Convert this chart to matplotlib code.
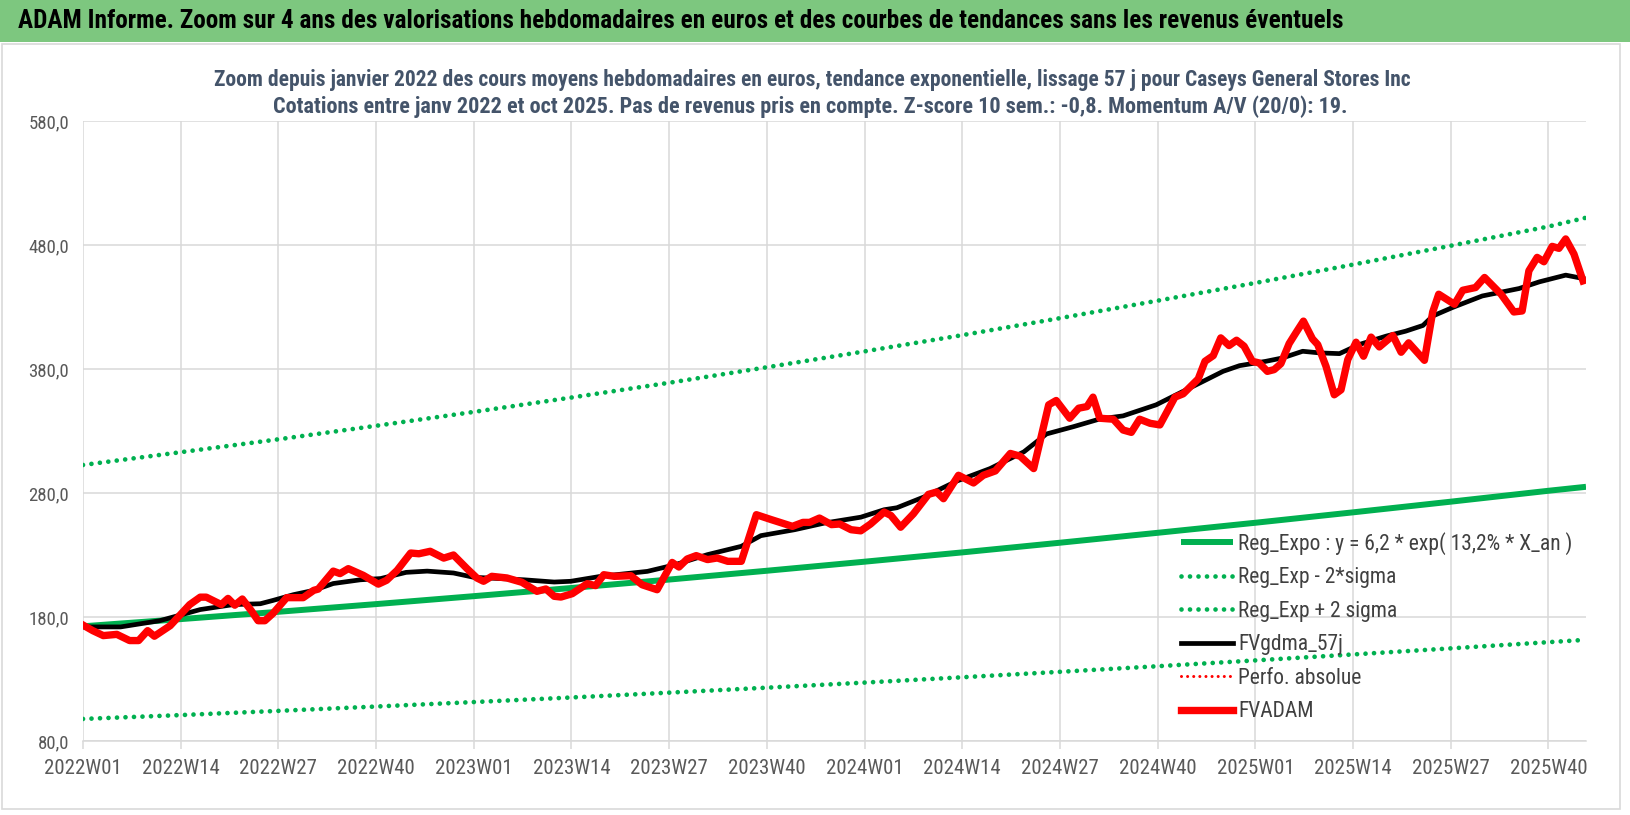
import matplotlib
matplotlib.use("Agg")
import matplotlib.pyplot as plt
from matplotlib import font_manager
from matplotlib.patches import Rectangle

# --- textes
titre = ("ADAM Informe. Zoom sur 4 ans des valorisations hebdomadaires en euros "
         "et des courbes de tendances sans les revenus éventuels")
sous_titre_1 = ("Zoom depuis janvier 2022 des cours moyens hebdomadaires en euros, "
                "tendance exponentielle, lissage 57 j pour Caseys General Stores Inc")
sous_titre_2 = ("Cotations entre janv 2022 et oct 2025. Pas de revenus pris en compte. "
                "Z-score 10 sem.: -0,8. Momentum A/V (20/0): 19.")

# --- axe des semaines (index 0 = 2022W01)
ticks_semaines = [0, 13, 26, 39, 52, 65, 78, 91, 104, 117, 130, 143, 156, 169, 182, 195]
labels_semaines = ["2022W01", "2022W14", "2022W27", "2022W40",
                   "2023W01", "2023W14", "2023W27", "2023W40",
                   "2024W01", "2024W14", "2024W27", "2024W40",
                   "2025W01", "2025W14", "2025W27", "2025W40"]
y_ticks = [80, 180, 280, 380, 480, 580]

# --- regression expo et bandes a 2 sigma (lues aux graduations)
reg_semaines = [0, 13, 26, 39, 52, 65, 78, 91, 104, 117, 130, 143, 156, 169, 182, 195, 200]
reg_expo = [172.5, 178.3, 184.2, 190.4, 196.8, 203.4, 210.2, 217.3, 224.6,
            232.1, 239.9, 247.9, 256.0, 264.4, 273.0, 281.8, 285.0]
reg_moins_2sigma = [97.8, 100.9, 104.3, 107.8, 111.4, 115.1, 119.0, 123.0, 127.1,
                    131.4, 135.8, 140.3, 145.0, 149.8, 154.7, 159.7, 161.6]
reg_plus_2sigma = [302.6, 312.9, 323.3, 334.2, 345.4, 357.0, 368.9, 381.4, 394.2,
                   407.3, 421.0, 435.1, 449.4, 464.2, 479.4, 494.9, 502.0]

# --- moyenne mobile 57 j (FVgdma_57j)
mm_semaines = [0, 5, 10.2, 15.6, 20, 23.6, 25.3, 28, 30.7, 33.3, 36.9, 39.6, 43, 45.8,
               49.3, 52, 53.8, 58.7, 62.7, 64.9, 68.9, 75.1, 78.7, 83.1, 87.6, 90.2,
               94.7, 98.7, 103.5, 106.6, 108.3, 111.9, 116.3, 120.7, 125.2, 128.2,
               131.8, 135.3, 138.4, 142.8, 145.9, 149.5, 151.7, 153.9, 157.4, 159.6,
               162.3, 164.5, 167.2, 169.8, 173.4, 176, 178.3, 179.6, 182.2, 186.2,
               191.1, 193.8, 197.3, 199.6]
mm_valeurs = [172, 172, 177, 186, 190, 190.7, 193.4, 198, 201.5, 207, 210, 211, 216, 217,
              215.5, 212, 211.5, 210, 208.2, 208.8, 212.8, 216.8, 222, 230.3, 237, 245.6,
              250.4, 255.8, 260.5, 266.5, 268.1, 276.8, 289.7, 299.7, 313.2, 327.6,
              333.5, 339.7, 342.2, 351.1, 360.5, 371.4, 378.1, 382.7, 386.2, 388.9,
              394.3, 393, 392.4, 399.7, 406.5, 410.5, 415.1, 422.7, 429.5, 438.9,
              444.9, 450.3, 455.7, 453]

# --- cours hebdomadaires (FVADAM)
cours_semaines = [0, 1.3, 2.7, 4.5, 6.2, 7.4, 8.6, 9.5, 11.6, 14.2, 15.6, 16.4, 18.4, 19.3,
                  20.2, 21.2, 22.4, 23.3, 24.2, 25.3, 27.1, 29.3, 30.7, 31.3, 33.3, 34.2,
                  35.3, 37.3, 39.3, 40.4, 41.8, 43.6, 44.7, 46.2, 48, 49.3, 51.1, 52.4,
                  53.3, 54.4, 56.4, 58.4, 60.4, 61.6, 62.7, 63.6, 65.1, 67.1, 68.2, 69.3,
                  70.7, 72.9, 74.4, 76.4, 78.4, 79.3, 80.4, 81.6, 83.1, 84.4, 85.8, 87.6,
                  89.6, 91.6, 94.4, 95.8, 96.7, 98, 99.6, 100.7, 102.2, 103.5, 104.8,
                  106.6, 107.5, 108.8, 110.5, 112.5, 113.6, 114.5, 116.5, 118.5, 119.8,
                  121.4, 123.4, 124.7, 126.5, 128.5, 129.5, 131.3, 132.5, 133.6, 134.4,
                  135.3, 137.1, 138.4, 139.5, 140.6, 142, 143.3, 145.3, 146.4, 148.4,
                  149.3, 150.4, 151.4, 152.5, 153.5, 154.5, 155.6, 156.5, 157.6, 158.5,
                  159.4, 160.5, 161.4, 162.4, 163.6, 164.3, 165.4, 166.5, 167.4, 168.3,
                  169.4, 170.4, 171.4, 172.5, 174.3, 175.4, 176.4, 178.5, 179.6, 180.4,
                  182.5, 183.6, 185.3, 186.5, 188.7, 190.4, 191.5, 192.4, 193.5, 194.4,
                  195.5, 196.4, 197.3, 198.4, 199.6]
cours_valeurs = [173.5, 169, 165, 166, 161, 161, 169, 164.5, 173, 190, 196, 196, 190, 195,
                 189.5, 194.5, 185, 177, 177, 183, 195.6, 195.6, 201.5, 202.5, 217, 215,
                 219, 213.6, 206.5, 209.6, 217.6, 231.6, 231, 233, 227.5, 230, 219, 211.5,
                 208.8, 212.8, 211.5, 208, 200.7, 202.6, 196.7, 196.1, 198.8, 206.9, 205.3,
                 214.1, 212.8, 213.3, 206, 202, 224, 220.3, 226.8, 229.5, 226.3, 227.6,
                 224.9, 224.9, 262.5, 258.5, 253.1, 256.3, 256.3, 259.8, 254.5, 255,
                 250.4, 249.5, 255, 264.6, 261.9, 252.4, 263.2, 278.9, 280.8, 275.4,
                 294.3, 288.1, 294.3, 297.8, 311.9, 309.7, 299.7, 351.1, 354.6, 340.3,
                 348.4, 349.7, 357.3, 340.3, 339.5, 330.8, 328.9, 339.5, 336.2, 334.9,
                 357.3, 360, 372, 386.2, 390.8, 405.1, 398.9, 403.2, 398.4, 386.2, 384.9,
                 378.1, 379.5, 384.3, 400.5, 409.2, 418.6, 404.3, 399.7, 382.2, 359.2,
                 363.2, 387.6, 401.6, 390.3, 405.7, 397.8, 407, 393.5, 401.1, 387, 426,
                 440.3, 432.2, 443.5, 445.7, 453.8, 440.3, 426, 426.8, 459.2, 470, 466.5,
                 478.9, 477.3, 484.9, 472.7, 451.1]

# police etroite type Calibri si dispo, sinon Open Sans
dispo = {f.name for f in font_manager.fontManager.ttflist}
police = "DejaVu Sans"
etroite = False
for nom in ["Roboto Condensed", "Liberation Sans Narrow", "Open Sans Condensed", "Open Sans", "Lato"]:
    if nom in dispo:
        police = nom
        etroite = "Narrow" in nom or "Condensed" in nom
        break
plt.rcParams["font.family"] = [police, "DejaVu Sans"]
k = 1.0 if etroite else 0.87   # compense la largeur de la police

VERT = "#00B050"
GRIS_TXT = "#595959"
ARDOISE = "#44546A"

fig = plt.figure(figsize=(16.3, 8.15), dpi=100)
fig.patch.set_facecolor("white")

# bandeau titre
fig.patches.append(Rectangle((0, 1 - 42 / 815), 1, 42 / 815, transform=fig.transFigure,
                             facecolor="#7DC77F", edgecolor="none", zorder=0))
fig.text(18 / 1630, 1 - 21 / 815, titre, fontsize=18.2 * k, fontweight="bold",
         color="black", ha="left", va="center")
# cadre du graphique
fig.patches.append(Rectangle((2 / 1630, 6 / 815), 1618 / 1630, 765 / 815, transform=fig.transFigure,
                             facecolor="none", edgecolor="#D9D9D9", lw=1.2, zorder=0))

fig.text(812 / 1630, 1 - 80 / 815, sous_titre_1, fontsize=15.5 * k, fontweight="bold",
         color=ARDOISE, ha="center", va="center")
fig.text(810 / 1630, 1 - 107 / 815, sous_titre_2, fontsize=16 * k, fontweight="bold",
         color=ARDOISE, ha="center", va="center")

ax = fig.add_axes([83 / 1630, 74 / 815, (1586 - 83) / 1630, (741 - 121) / 815])

ax.plot(reg_semaines, reg_expo, color=VERT, lw=4.3, solid_capstyle="butt",
        label="Reg_Expo : y = 6,2 * exp( 13,2% * X_an )", zorder=2)
ax.plot(reg_semaines, reg_moins_2sigma, color=VERT, lw=3.4, linestyle=(0, (0.001, 1.8)),
        dash_capstyle="round", label="Reg_Exp - 2*sigma", zorder=2)
ax.plot(reg_semaines, reg_plus_2sigma, color=VERT, lw=3.4, linestyle=(0, (0.001, 1.8)),
        dash_capstyle="round", label="Reg_Exp + 2 sigma", zorder=2)
ax.plot(mm_semaines, mm_valeurs, color="black", lw=3.4, label="FVgdma_57j", zorder=3)
ax.plot([], [], color="#FF0000", lw=2.2, linestyle=(0, (0.001, 2.0)),
        dash_capstyle="round", label="Perfo. absolue")
ax.plot(cours_semaines, cours_valeurs, color="#FF0000", lw=5.3, solid_joinstyle="round",
        label="FVADAM", zorder=4)

ax.set_xlim(0, 200)
ax.set_ylim(80, 580)
ax.set_xticks(ticks_semaines)
ax.set_xticklabels(labels_semaines)
ax.set_yticks(y_ticks)
ax.set_yticklabels([f"{v:.1f}".replace(".", ",") for v in y_ticks])
ax.grid(True, color="#D9D9D9", lw=1.1)
ax.set_axisbelow(True)
for s in ["top", "right", "left"]:
    ax.spines[s].set_visible(False)
ax.spines["bottom"].set_color("#D9D9D9")
ax.spines["bottom"].set_linewidth(1.1)
ax.tick_params(axis="x", colors="#D9D9D9", length=6, width=1.1, labelcolor=GRIS_TXT,
               labelsize=15 * k, pad=7)
ax.tick_params(axis="y", length=0, labelcolor=GRIS_TXT, labelsize=13.5 * k, pad=10)

leg = ax.legend(loc="upper left", bbox_to_anchor=(1181 / 1630, 1 - 532 / 815),
                bbox_transform=fig.transFigure, frameon=False, fontsize=15.5 * k,
                handlelength=2.4 / k, handletextpad=0.25, labelspacing=0.58,
                borderpad=0, borderaxespad=0)
for t in leg.get_texts():
    t.set_color("#404040")

fig.savefig("out.png", dpi=100)
